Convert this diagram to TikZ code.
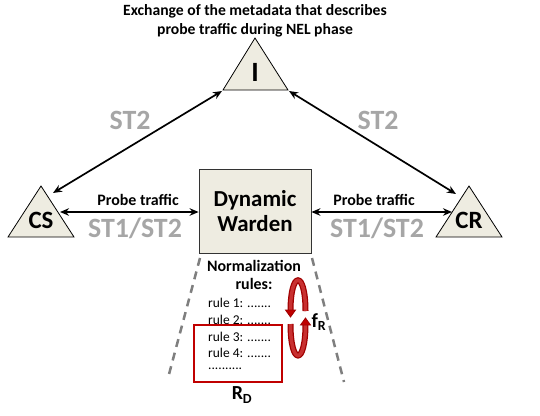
\documentclass[tikz,border=0pt]{standalone}
\usepackage{fontspec}
\setmainfont{Carlito}
\usetikzlibrary{arrows.meta}
\definecolor{beige}{HTML}{EEECE1}
\definecolor{stgray}{HTML}{A6A6A6}
\definecolor{rdred}{HTML}{C00000}
\definecolor{rddark}{HTML}{A00000}
\definecolor{rdlight}{HTML}{C83030}
\definecolor{dashgray}{HTML}{7F7F7F}
\newcommand{\fs}[1]{\fontsize{#1}{1.2\dimexpr#1pt\relax}\selectfont}
\tikzset{
  tri/.style={draw=black, fill=beige, line width=0.8bp},
  conn/.style={line width=1.7bp, {Stealth[length=9bp,width=7.5bp]}-{Stealth[length=9bp,width=7.5bp]}},
  sttext/.style={text=stgray, font=\bfseries\fs{28}, inner sep=0},
  probetext/.style={font=\bfseries\fs{16}, inner sep=0},
  bigletter/.style={font=\bfseries\fs{25}, inner sep=0},
  ruletext/.style={font=\fs{13.5}, inner sep=0, anchor=west},
  dashline/.style={draw=dashgray, line width=2.5bp, dash pattern=on 8bp off 6bp},
  loopouter/.style={draw=rddark, line width=6bp},
  loopinner/.style={draw=rdlight, line width=3.5bp},
  loophead/.style={fill=rdred, draw=rddark, line width=0.8bp, line join=miter}
}
\begin{document}
\begin{tikzpicture}[x=1bp,y=-1bp]
\useasboundingbox (0,0) rectangle (540,415);
% title
\node[font=\bfseries\fs{15.7}, align=center, inner sep=0] (title) at (255,21)
  {Exchange of the metadata that describes\\probe traffic during NEL phase};
% triangle I
\coordinate (Itop) at (255,38);
\coordinate (Ibl) at (223,90);
\coordinate (Ibr) at (288,90);
\draw[tri] (Itop) -- (Ibr) -- (Ibl) -- cycle;
\node[font=\bfseries\fs{28}, inner sep=0] (I) at (255,72) {I};
% triangle CS
\coordinate (CStop) at (41,186);
\coordinate (CSbl) at (8,237);
\coordinate (CSbr) at (74,237);
\draw[tri] (CStop) -- (CSbr) -- (CSbl) -- cycle;
\node[bigletter] (CS) at (41,220) {CS};
% triangle CR
\coordinate (CRtop) at (469,186);
\coordinate (CRbl) at (436,237);
\coordinate (CRbr) at (502,237);
\draw[tri] (CRtop) -- (CRbr) -- (CRbl) -- cycle;
\node[bigletter] (CR) at (469,220) {CR};
% Dynamic Warden box
\node[draw=black!80, fill=beige, line width=0.8bp, minimum width=112bp, minimum height=84bp,
      align=center, font=\bfseries\fs{23}, inner sep=0] (DW) at (255,211)
  {Dynamic\\[-3bp]Warden};
% connection end points
\coordinate (Ileft) at (222,91);
\coordinate (Iright) at (289,91);
\coordinate (CSin) at (53,193);
\coordinate (CRin) at (456,194);
\coordinate (CSside) at (60,212);
\coordinate (CRside) at (452,212);
\draw[conn] (Ileft) -- (CSin);
\draw[conn] (Iright) -- (CRin);
\draw[conn] (CSside) -- (DW.west |- CSside);
\draw[conn] (DW.east |- CRside) -- (CRside);
% labels
\node[sttext] (st2l) at (130,120) {ST2};
\node[sttext] (st2r) at (378,120) {ST2};
\node[probetext] (ptl) at (138,200) {Probe traffic};
\node[probetext] (ptr) at (374,200) {Probe traffic};
\node[sttext] (st12l) at (135,228) {ST1/ST2};
\node[sttext] (st12r) at (377,228) {ST1/ST2};
% dashed funnel
\coordinate (fl1) at (200,258);
\coordinate (fl2) at (168,378);
\coordinate (fr1) at (312,258);
\coordinate (fr2) at (344,382);
\draw[dashline] (fl1) -- (fl2);
\draw[dashline] (fr1) -- (fr2);
% normalization rules
\node[font=\bfseries\fs{16}, align=center, inner sep=0] (norm) at (254,275)
  {Normalization\\[-1bp]rules:};
\node[ruletext] (r1) at (208,303) {rule 1: .......};
\node[ruletext] (r2) at (208,320) {rule 2: .......};
\node[ruletext] (r3) at (208,337) {rule 3: .......};
\node[ruletext] (r4) at (208,353) {rule 4: .......};
\node[ruletext] (r5) at (208,369) {..........};
% R_D box
\node[draw=rdred, line width=2bp, minimum width=88bp, minimum height=57bp, inner sep=0] (RD) at (238,353.5) {};
\node[font=\bfseries\fs{20}, inner sep=0] (RDlab) at (242,395) {R\textsubscript{D}};
% f_R loop
\draw[loopouter] (290.5,311) .. controls (290.5,270) and (305.5,270) .. (305.5,311);
\draw[loopinner] (290.5,311) .. controls (290.5,270) and (305.5,270) .. (305.5,311);
\draw[loopouter] (290.5,324) .. controls (290.5,366) and (305.5,366) .. (305.5,324);
\draw[loopinner] (290.5,324) .. controls (290.5,366) and (305.5,366) .. (305.5,324);
\draw[loophead] (285.5,310) -- (295.5,310) -- (290.5,317) -- cycle;
\draw[loophead] (300.5,325) -- (310.5,325) -- (305.5,318) -- cycle;
\node[font=\bfseries\fs{20}, inner sep=0] (fR) at (319,322) {f\textsubscript{R}};
\end{tikzpicture}
\end{document}
